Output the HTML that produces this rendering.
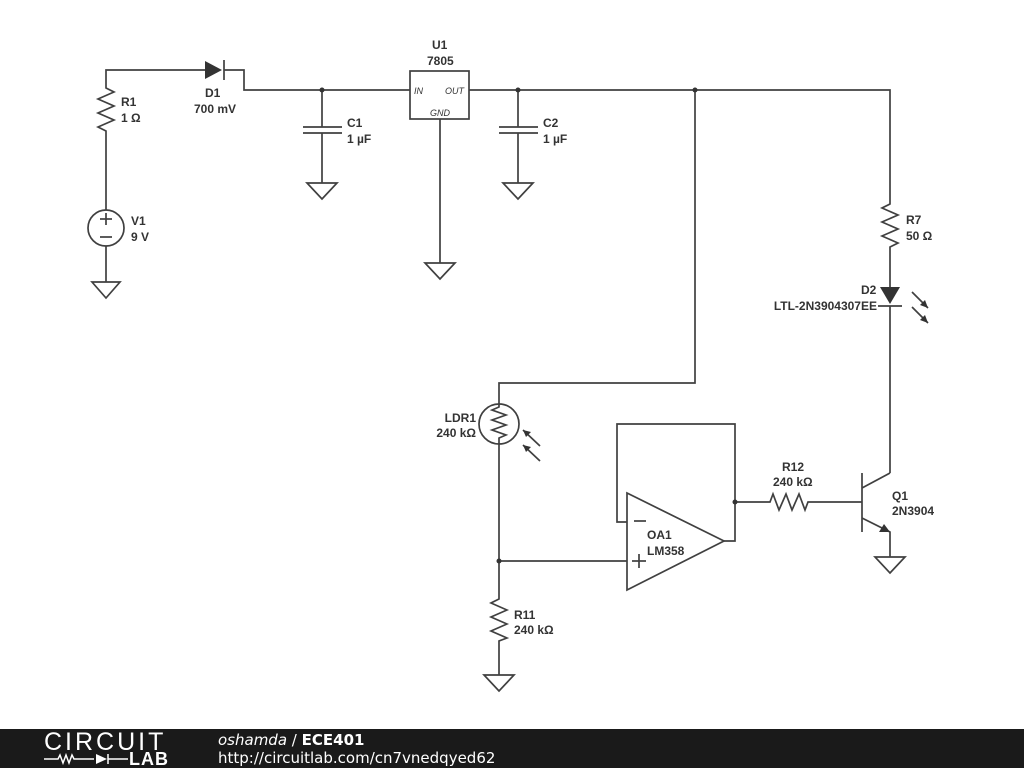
<!DOCTYPE html>
<html><head><style>
body{margin:0;width:1024px;height:768px;background:#fff;overflow:hidden;font-family:"Liberation Sans",sans-serif}
svg text{font-family:"Liberation Sans",sans-serif;font-size:12px;font-weight:bold;fill:#333}
</style></head><body>
<svg width="1024" height="768" xmlns="http://www.w3.org/2000/svg">
<g stroke="#404040" stroke-width="1.7" fill="none">
<!-- V1/R1 -->
<polyline points="106,210 106,131 98,127 114,120 98,113 114,106 98,99 114,92 106,88 106,70 205,70"/>
<circle cx="106" cy="228" r="18"/>
<line x1="100" y1="219" x2="112" y2="219"/><line x1="106" y1="213" x2="106" y2="225"/>
<line x1="100" y1="237" x2="112" y2="237"/>
<polyline points="106,246 106,282"/><polygon points="92,282 120,282 106,298"/>
<!-- D1 -->
<line x1="224" y1="60" x2="224" y2="80"/>
<polyline points="224,70 244,70 244,90 410,90"/>
<!-- C1 -->
<line x1="322" y1="90" x2="322" y2="127"/><line x1="303" y1="127" x2="342" y2="127"/><line x1="303" y1="133" x2="342" y2="133"/>
<line x1="322" y1="133" x2="322" y2="183"/><polygon points="307,183 337,183 322,199"/>
<!-- U1 -->
<rect x="410" y="71" width="59" height="48"/>
<line x1="440" y1="119" x2="440" y2="263"/><polygon points="425,263 455,263 440,279"/>
<polyline points="469,90 890,90 890,204 882,208 898,215 882,222 898,229 882,236 898,243 890,247 890,287"/>
<!-- C2 -->
<line x1="518" y1="90" x2="518" y2="127"/><line x1="499" y1="127" x2="538" y2="127"/><line x1="499" y1="133" x2="538" y2="133"/>
<line x1="518" y1="133" x2="518" y2="183"/><polygon points="503,183 533,183 518,199"/>
<!-- D2 -->
<line x1="878" y1="306" x2="902" y2="306"/><line x1="890" y1="306" x2="890" y2="473"/>
<line x1="912" y1="292" x2="928" y2="308"/><line x1="912" y1="307" x2="928" y2="323"/>
<!-- LDR -->
<polyline points="695,90 695,383 499,383 499,404"/>
<circle cx="499" cy="424" r="20"/>
<polyline points="499,404 499,407 492,410 506,415 492,420 506,425 492,430 506,435 499,438 499,444"/>
<line x1="499" y1="444" x2="499" y2="596"/>
<line x1="523" y1="430" x2="540" y2="446"/><line x1="523" y1="445" x2="540" y2="461"/>
<polyline points="499,561 627,561"/>
<polyline points="499,596 499,599 491,603 507,610 491,617 507,624 491,631 507,638 499,641 499,675"/>
<polygon points="484,675 514,675 499,691"/>
<!-- Opamp -->
<polygon points="627,493 627,590 724,541"/>
<polyline points="627,522 617,522 617,424 735,424 735,541 724,541"/>
<line x1="634" y1="521" x2="646" y2="521"/>
<line x1="632" y1="561" x2="646" y2="561"/><line x1="639" y1="554" x2="639" y2="568"/>
<polyline points="735,502 770,502 773,494 779,510 786,494 792,510 799,494 805,510 808,502 862,502"/>
<!-- Q1 -->
<line x1="862" y1="473" x2="862" y2="532"/>
<polyline points="862,488 890,473"/>
<polyline points="862,518 890,532 890,557"/><polygon points="875,557 905,557 890,573"/>
</g>
<g fill="#333">
<polygon points="205,61 205,79 222,70"/>
<polygon points="880,287 900,287 890,304"/>
<polygon points="928,308 920,305 925,300"/><polygon points="928,323 920,320 925,315"/>
<polygon points="523,430 531,432 526,437"/><polygon points="523,445 531,447 526,452"/>
<polygon points="890,532 879,532 884,524"/>
<circle cx="322" cy="90" r="2.5"/><circle cx="518" cy="90" r="2.5"/><circle cx="695" cy="90" r="2.5"/>
<circle cx="499" cy="561" r="2.5"/><circle cx="735" cy="502" r="2.5"/>
</g>
<text x="121" y="106">R1</text><text x="121" y="122">1 Ω</text>
<text x="131" y="225">V1</text><text x="131" y="241">9 V</text>
<text x="205" y="97">D1</text><text x="194" y="113">700 mV</text>
<text x="347" y="127">C1</text><text x="347" y="143">1 µF</text>
<text x="432" y="49">U1</text><text x="427" y="65">7805</text>
<text x="414" y="94" style="font-size:9px;font-style:italic;font-weight:normal">IN</text>
<text x="445" y="94" style="font-size:9px;font-style:italic;font-weight:normal">OUT</text>
<text x="430" y="116" style="font-size:9px;font-style:italic;font-weight:normal">GND</text>
<text x="543" y="127">C2</text><text x="543" y="143">1 µF</text>
<text x="906" y="224">R7</text><text x="906" y="240">50 Ω</text>
<text x="861" y="294">D2</text><text x="877" y="310" text-anchor="end">LTL-2N3904307EE</text>
<text x="476" y="422" text-anchor="end">LDR1</text><text x="476" y="437" text-anchor="end">240 kΩ</text>
<text x="647" y="539">OA1</text><text x="647" y="555">LM358</text>
<text x="782" y="471">R12</text><text x="773" y="486">240 kΩ</text>
<text x="892" y="500">Q1</text><text x="892" y="515">2N3904</text>
<text x="514" y="619">R11</text><text x="514" y="634">240 kΩ</text>
</svg>
<div style="position:absolute;left:0;top:729px;width:1024px;height:39px;background:#1a1a1a"></div>
<div style="position:absolute;left:44px;top:728px;color:#fff;font-size:25px;font-family:'Liberation Sans',sans-serif;letter-spacing:3px">CIRCUIT</div>
<div style="position:absolute;left:129px;top:749px;color:#fff;font-size:18px;font-weight:bold;font-family:'Liberation Sans',sans-serif;letter-spacing:1px">LAB</div>
<svg style="position:absolute;left:44px;top:752px" width="84" height="14"><g stroke="#fff" stroke-width="1.5" fill="none"><polyline points="0,7 14,7 16,3 19,11 22,3 25,11 28,3 30,7 50,7"/><line x1="64" y1="2" x2="64" y2="12"/><line x1="64" y1="7" x2="84" y2="7"/></g><polygon points="52,2 52,12 63,7" fill="#fff"/></svg>
<div style="position:absolute;left:218px;top:731px;color:#fff;font-size:15px;font-family:'DejaVu Sans',sans-serif"><i>oshamda</i> / <b>ECE401</b></div>
<div style="position:absolute;left:218px;top:749px;color:#fff;font-size:15px;font-family:'DejaVu Sans',sans-serif">http://circuitlab.com/cn7vnedqyed62</div>
</body></html>
